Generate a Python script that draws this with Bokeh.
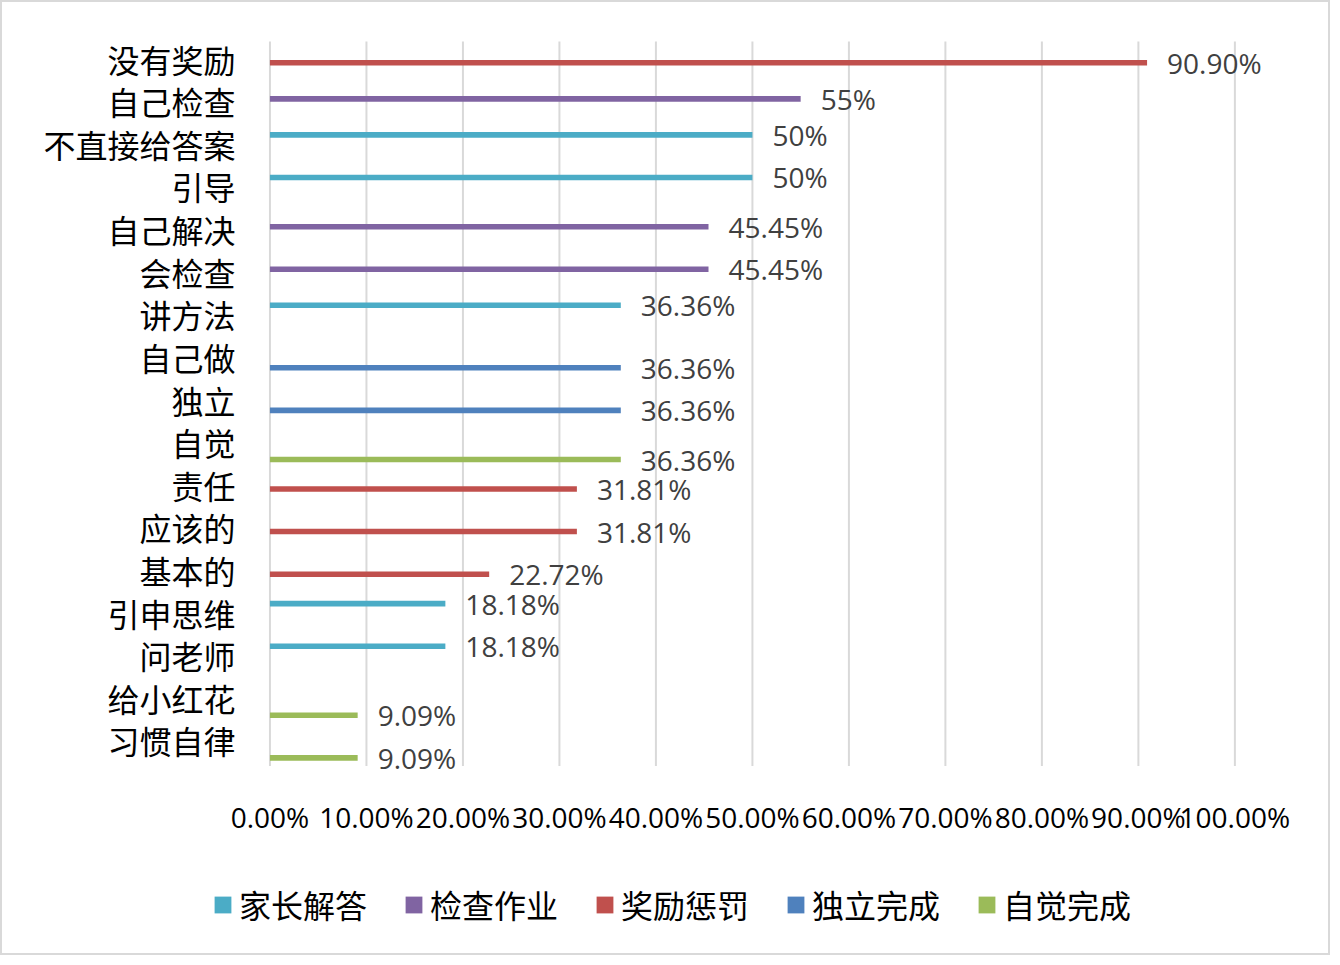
from bokeh.plotting import figure
from bokeh.layouts import column
from bokeh.models import (ColumnDataSource, FactorRange, Range1d, FixedTicker,
                          PrintfTickFormatter, Legend, LegendItem)
from bokeh.transform import dodge
from bokeh.core.properties import value
from bokeh.embed import file_html
from bokeh.resources import INLINE

categories = ["没有奖励", "自己检查", "不直接给答案", "引导", "自己解决", "会检查",
              "讲方法", "自己做", "独立", "自觉", "责任", "应该的", "基本的",
              "引申思维", "问老师", "给小红花", "习惯自律"]
values = [90.90, 55, 50, 50, 45.45, 45.45, 36.36, 36.36, 36.36, 36.36,
          31.81, 31.81, 22.72, 18.18, 18.18, 9.09, 9.09]
value_labels = ["90.90%", "55%", "50%", "50%", "45.45%", "45.45%", "36.36%",
                "36.36%", "36.36%", "36.36%", "31.81%", "31.81%", "22.72%",
                "18.18%", "18.18%", "9.09%", "9.09%"]
groups = ["奖励惩罚", "检查作业", "家长解答", "家长解答", "检查作业", "检查作业",
          "家长解答", "独立完成", "独立完成", "自觉完成", "奖励惩罚", "奖励惩罚",
          "奖励惩罚", "家长解答", "家长解答", "自觉完成", "自觉完成"]
series_names = ["家长解答", "检查作业", "奖励惩罚", "独立完成", "自觉完成"]
series_colors = ["#4BACC6", "#8064A2", "#C0504D", "#4F81BD", "#9BBB59"]
series_offsets = [0.31, 0.155, 0.0, -0.155, -0.31]
x_ticks = [0, 10, 20, 30, 40, 50, 60, 70, 80, 90, 100]

SHIFT = 0.1   # category labels sit slightly above the bar band (as in the original)
W, H1, H2 = 1326, 858, 93
FRAME_L, FRAME_R, FRAME_T, FRAME_B = 266, 1298, 22, 772   # canvas pixel coords
p = figure(width=W, height=H1, output_backend="svg", toolbar_location=None,
           title=None,
           y_range=FactorRange(factors=list(reversed(categories)),
                               range_padding=0.3, range_padding_units="absolute"),
           x_range=Range1d(-0.15, 106.8),
           min_border_left=FRAME_L, min_border_right=W - FRAME_R,
           min_border_top=FRAME_T, min_border_bottom=H1 - FRAME_B)
p.frame_align = False
p.outline_line_color = None
p.background_fill_color = "white"
p.border_fill_color = "white"

p.ygrid.grid_line_color = None
p.xgrid.grid_line_color = None
# vertical gridlines spanning the category band only
p.segment(x0=x_ticks, x1=x_ticks, y0=[0 - SHIFT] * len(x_ticks),
          y1=[len(categories) - SHIFT] * len(x_ticks),
          line_color="#d9d9d9", line_width=2)

xa = p.xaxis[0]
xa.ticker = FixedTicker(ticks=x_ticks)
xa.formatter = PrintfTickFormatter(format="%.2f%%")
xa.axis_line_color = None
xa.major_tick_line_color = None
xa.minor_tick_line_color = None
xa.major_tick_out = 0
xa.major_tick_in = 0
xa.major_label_standoff = 23
xa.major_label_text_font = "Open Sans"
xa.major_label_text_font_size = "28px"
xa.major_label_text_color = "black"

ya = p.yaxis[0]
ya.axis_line_color = None
ya.major_tick_line_color = None
ya.major_tick_out = 0
ya.major_tick_in = 0
ya.major_label_standoff = 33
ya.major_label_text_font = "Noto Sans CJK SC"
ya.major_label_text_font_size = "32px"
ya.major_label_text_color = "black"

# legend lives in its own strip below the chart
p2 = figure(width=W, height=H2, output_backend="svg", toolbar_location=None,
            title=None, x_axis_type=None, y_axis_type=None,
            x_range=Range1d(0, 1), y_range=Range1d(0, 1),
            min_border_left=0, min_border_right=0, min_border_top=0,
            min_border_bottom=0)
p2.frame_align = False
p2.outline_line_color = None
p2.background_fill_color = "white"
p2.border_fill_color = "white"

items = []
for name, color, off in zip(series_names, series_colors, series_offsets):
    idx = [i for i, g in enumerate(groups) if g == name]
    src = ColumnDataSource(dict(
        cat=[categories[i] for i in idx],
        val=[values[i] for i in idx],
        lab=[value_labels[i] for i in idx],
    ))
    ypos = dodge("cat", off - SHIFT, range=p.y_range)
    p.hbar(y=ypos, right="val", left=0,
           height=0.13, source=src, fill_color=color, line_color=None)
    p.text(x="val", y=ypos, text="lab", source=src,
           x_offset=20, text_baseline="middle", text_align="left",
           text_font=value("Open Sans"), text_font_size="28px",
           text_color="#404040")
    # legend key only: zero-width copy of the series in the legend strip
    key = p2.hbar(y="val", right="val", left="val", height=0.1, source=src,
                  fill_color=color, line_color=None)
    items.append(LegendItem(label=name, renderers=[key]))

legend = Legend(items=items, orientation="horizontal", location=(210, 26))
legend.border_line_color = None
legend.background_fill_alpha = 0
legend.padding = 0
legend.margin = 0
legend.label_text_font = "Noto Sans CJK SC"
legend.label_text_font_size = "32px"
legend.label_text_color = "black"
legend.glyph_width = 21
legend.glyph_height = 21
legend.label_standoff = 6
legend.spacing = 36
p2.add_layout(legend, "center")

page = column(p, p2, spacing=0, styles={"border": "2px solid #d9d9d9"})
open("out.html", "w").write(file_html(page, INLINE))
